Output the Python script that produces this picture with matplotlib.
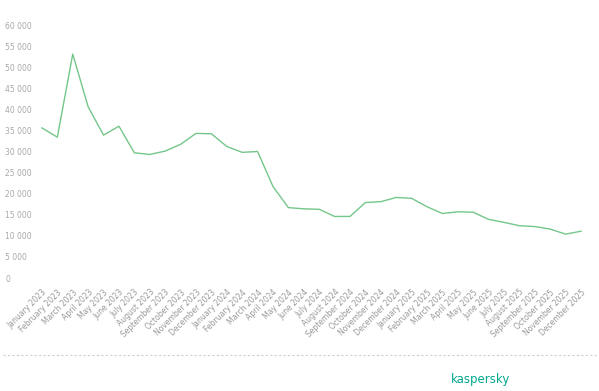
import matplotlib
matplotlib.use('Agg')
import matplotlib.pyplot as plt
from matplotlib.ticker import FuncFormatter

months = ['January', 'February', 'March', 'April', 'May', 'June', 'July',
          'August', 'September', 'October', 'November', 'December']
years = [2023, 2024, 2025]
labels = ['%s %d' % (m, y) for y in years for m in months]

values = [35600, 33400, 53100, 40600, 33900, 36000, 29700, 29300, 30100,
          31700, 34300, 34200, 31200, 29800, 30000, 21700, 16700, 16400,
          16300, 14600, 14600, 17900, 18100, 19100, 18900, 16900, 15300,
          15700, 15600, 13900, 13200, 12400, 12200, 11600, 10400, 11100]

yticks = list(range(0, 60001, 5000))

fig = plt.figure(figsize=(5.99, 3.91), dpi=100)
ax = fig.add_axes([0.06, 0.289, 0.92, 0.647])

x = list(range(len(values)))
ax.plot(x, values, color='#74c68a', linewidth=1.0)

ax.set_ylim(0, 60000)
ax.set_xlim(-0.39, len(values) - 1 + 0.39)
ax.set_yticks(yticks)
ax.yaxis.set_major_formatter(FuncFormatter(lambda v, p: '{:,}'.format(int(v)).replace(',', ' ')))
ax.tick_params(axis='y', length=0, pad=22, labelsize=5.5, labelcolor='#a8a8a8')
for t in ax.get_yticklabels():
    t.set_horizontalalignment('left')

ax.set_xticks(x)
ax.set_xticklabels(labels, rotation=45, ha='right', rotation_mode='anchor')
ax.tick_params(axis='x', length=0, pad=7, labelsize=5.5, labelcolor='#999999')

for s in ax.spines.values():
    s.set_visible(False)

# footer: dotted rule and logo text
fig.add_artist(plt.Line2D([0.005, 0.995], [0.092, 0.092], transform=fig.transFigure,
                          color='#cfcfcf', linewidth=0.8, linestyle=(0, (2, 2))))
fig.text(0.852, 0.012, 'kaspersky', color='#00a88e', fontsize=8.5, ha='right', va='bottom')
fig.savefig('out.png', dpi=100)
